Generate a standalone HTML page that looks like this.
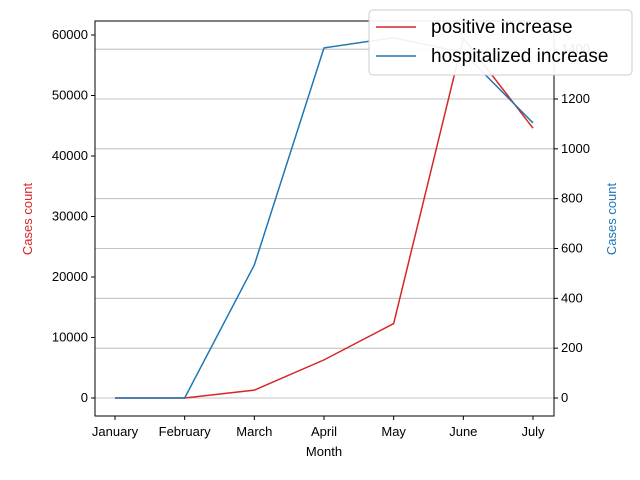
<!DOCTYPE html>
<html><head><meta charset="utf-8"><style>
body{margin:0;background:#fff;}
svg{display:block;font-family:"Liberation Sans","DejaVu Sans",sans-serif;}
</style></head><body>
<svg id="chart" width="640" height="480"></svg>
<script>
const months=["January","February","March","April","May","June","July"];
const positiveIncrease=[0,0,1300,6300,12300,59500,44600];
const hospitalizedIncrease=[0,0,534,1405,1446,1386,1104];
const leftTicks=[0,10000,20000,30000,40000,50000,60000];
const rightTicks=[0,200,400,600,800,1000,1200,1400];
const svg=document.getElementById('chart');
const NS='http://www.w3.org/2000/svg';
const L=95,R=554,T=21,B=416;
const x=i=>115+i*(533-115)/(months.length-1);
const yl=v=>398-v*(398-35)/60000;
const yr=v=>398-v*(398-99)/1200;
function mk(tag,attrs,name,text){const e=document.createElementNS(NS,tag);for(const k in attrs)e.setAttribute(k,attrs[k]);


if(text!==undefined)e.textContent=text;svg.appendChild(e);return e;}
rightTicks.forEach(v=>{mk('line',{x1:L,x2:R,y1:yr(v),y2:yr(v),stroke:'#b0b0b0','stroke-width':0.8},'grid-line');});
mk('rect',{x:L,y:T,width:R-L,height:B-T,fill:'none',stroke:'#000','stroke-width':1},'plot-frame');
leftTicks.forEach(v=>{mk('line',{x1:L-4,x2:L,y1:yl(v),y2:yl(v),stroke:'#000'},'left-tick');
mk('text',{x:L-7,y:yl(v)+4,'text-anchor':'end','font-size':13},'left-tick-label',String(v));});
rightTicks.forEach(v=>{if(yr(v)<T)return;mk('line',{x1:R,x2:R+4,y1:yr(v),y2:yr(v),stroke:'#000'},'right-tick');
mk('text',{x:R+7,y:yr(v)+4,'font-size':13},'right-tick-label',String(v));});
months.forEach((m,i)=>{mk('line',{x1:x(i),x2:x(i),y1:B,y2:B+4,stroke:'#000'},'x-tick');
mk('text',{x:x(i),y:B+20,'text-anchor':'middle','font-size':13},'x-tick-label',m);});
mk('text',{x:324,y:456,'text-anchor':'middle','font-size':13},'x-axis-title','Month');
mk('text',{x:32,y:219,'text-anchor':'middle','font-size':13,fill:'#d62728',transform:'rotate(-90 32 219)'},'left-axis-title','Cases count');
mk('text',{x:616,y:219,'text-anchor':'middle','font-size':13,fill:'#1f77b4',transform:'rotate(-90 616 219)'},'right-axis-title','Cases count');
mk('polyline',{points:positiveIncrease.map((v,i)=>x(i)+','+yl(v)).join(' '),fill:'none',stroke:'#d62728','stroke-width':1.5},'positive-increase-line');
mk('polyline',{points:hospitalizedIncrease.map((v,i)=>x(i)+','+yr(v)).join(' '),fill:'none',stroke:'#1f77b4','stroke-width':1.5},'hospitalized-increase-line');
mk('rect',{x:369,y:10,width:263,height:65,rx:4,fill:'#fff','fill-opacity':0.92,stroke:'#ccc'},'legend-box');
mk('line',{x1:376,x2:416,y1:27,y2:27,stroke:'#d62728','stroke-width':1.5},'legend-positive-swatch');
mk('text',{x:431,y:33,'font-size':19},'legend-positive-label','positive increase');
mk('line',{x1:376,x2:416,y1:56,y2:56,stroke:'#1f77b4','stroke-width':1.5},'legend-hospitalized-swatch');
mk('text',{x:431,y:62,'font-size':19},'legend-hospitalized-label','hospitalized increase');
</script>
</body></html>
